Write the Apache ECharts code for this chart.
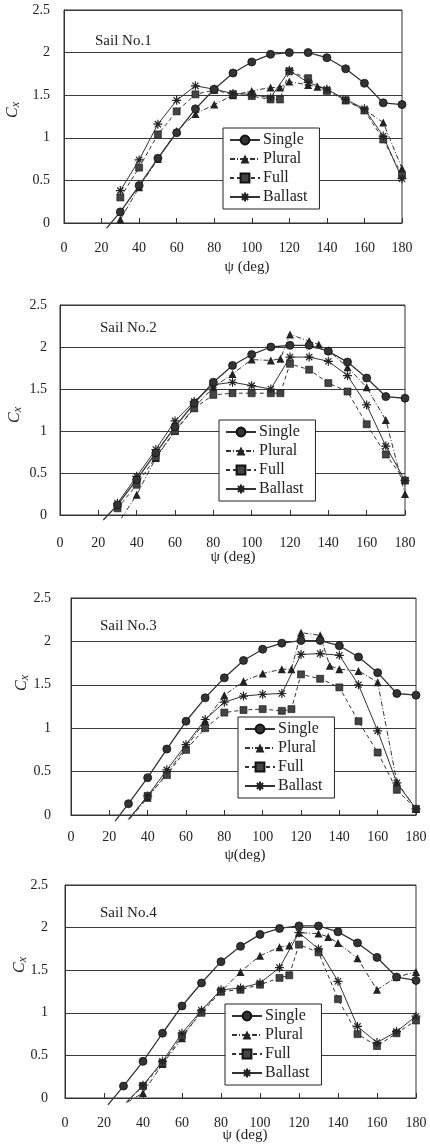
<!DOCTYPE html>
<html><head><meta charset="utf-8">
<script src="https://cdn.jsdelivr.net/npm/echarts@6/dist/echarts.min.js"></script>
<style>html,body{margin:0;padding:0;background:#fff}#c{width:430px;height:1148px}</style>
</head><body><div id="c"></div>
<script>
// ---- data ----
const psi = [30,40,50,60,70,80,90,100,110,115,120,130,135,140,150,160,170,180];
const seriesNames = ['Single','Plural','Full','Ballast'];
const panelLabels = ['Sail No.1','Sail No.2','Sail No.3','Sail No.4'];
const xTitles = ['\u03c8 (deg)','\u03c8 (deg)','\u03c8(deg)','\u03c8 (deg)'];
const xTicks = [0,20,40,60,80,100,120,140,160,180];
const yTicks = [0,0.5,1,1.5,2,2.5];

const single1  = [0.13,0.44,0.76,1.06,1.34,1.57,1.76,1.89,1.98,null,2.00,2.00,null,1.94,1.81,1.64,1.41,1.39];
const plural1  = [0.04,0.42,0.75,1.08,1.28,1.39,1.50,1.55,1.59,1.59,1.66,1.62,1.60,1.57,1.44,1.33,1.18,0.64];
const full1    = [0.30,0.65,1.04,1.31,1.51,1.56,1.51,1.49,1.45,1.45,1.78,1.70,null,1.55,1.44,1.32,0.98,0.56];
const ballast1 = [0.38,0.74,1.16,1.44,1.61,1.57,1.52,1.51,1.47,null,1.79,1.65,null,1.57,1.45,1.34,1.02,0.52];

const single2  = [0.12,0.42,0.74,1.05,1.33,1.58,1.78,1.91,2.00,null,2.02,2.02,null,1.95,1.82,1.63,1.41,1.39];
const plural2  = [null,0.24,0.68,1.00,1.28,1.52,1.68,1.85,1.84,1.86,2.15,2.07,2.03,1.96,1.76,1.52,1.13,0.25];
const full2    = [0.08,0.36,0.69,1.00,1.27,1.43,1.45,1.45,1.45,1.45,1.80,1.73,null,1.57,1.47,1.08,0.72,0.41];
const ballast2 = [0.14,0.46,0.78,1.12,1.35,1.55,1.58,1.54,1.50,null,1.88,1.88,null,1.83,1.66,1.31,0.82,0.41];

const single3  = [0.13,0.43,0.76,1.08,1.35,1.58,1.78,1.91,1.98,null,2.01,2.01,null,1.95,1.82,1.64,1.40,1.38];
const plural3  = [null,0.20,0.48,0.78,1.08,1.38,1.54,1.63,1.68,1.68,2.10,2.07,1.72,1.68,1.66,1.53,0.38,0.07];
const full3    = [null,0.22,0.46,0.75,1.00,1.18,1.21,1.22,1.20,1.22,1.62,1.57,null,1.47,1.08,0.72,0.29,0.07];
const ballast3 = [null,0.22,0.52,0.81,1.10,1.30,1.37,1.39,1.40,null,1.85,1.86,null,1.84,1.50,0.97,0.37,0.07];

const single4  = [0.14,0.43,0.76,1.08,1.35,1.60,1.78,1.92,1.99,null,2.02,2.02,null,1.95,1.82,1.65,1.42,1.38];
const plural4  = [null,0.06,0.40,0.70,1.03,1.25,1.48,1.67,1.77,1.79,1.94,1.93,1.89,1.82,1.64,1.27,1.42,1.48];
const full4    = [null,0.14,0.41,0.73,1.00,1.25,1.27,1.33,1.41,1.44,1.80,1.71,null,1.16,0.75,0.61,0.76,0.91];
const ballast4 = [null,0.15,0.43,0.76,1.03,1.27,1.29,1.35,1.53,null,1.94,1.75,null,1.37,0.84,0.65,0.78,0.96];

// line stubs running below the axis (start of each curve, no marker)
const stubs1 = {Single:[22.7,-0.06]};
const stubs2 = {Single:[22.6,-0.06], Plural:[32,-0.04]};
const stubs3 = {Single:[23,-0.07], Plural:[30.5,-0.05], Full:[30,-0.05], Ballast:[30,-0.05]};
const stubs4 = {Single:[22,-0.08], Plural:[32,-0.05], Full:[31.5,-0.05], Ballast:[31.5,-0.05]};

const panels = [
  {Single:single1, Plural:plural1, Full:full1, Ballast:ballast1, stubs:stubs1},
  {Single:single2, Plural:plural2, Full:full2, Ballast:ballast2, stubs:stubs2},
  {Single:single3, Plural:plural3, Full:full3, Ballast:ballast3, stubs:stubs3},
  {Single:single4, Plural:plural4, Full:full4, Ballast:ballast4, stubs:stubs4}
];

// ---- layout / style ----
const FONT = 'Liberation Serif';
const INK = '#222';
const grids = [
  {left:64, top:10,  width:338, height:213},
  {left:60, top:305, width:345, height:210},
  {left:71, top:598, width:345, height:217},
  {left:65, top:885, width:351, height:213}
];
const yMargins = [14,13,20,17];
const xMargins = [18,21,15,18];
const legendPos = [
  {left:223, top:128}, {left:219, top:420}, {left:238, top:717}, {left:225, top:1004}
];
const sailPos = [[95,43],[100,330],[100,628],[100,915]];
const xTitlePos = [[247,267],[233,557],[245,855],[245,1135]];
const yTitlePos = [[13,110],[15,415],[22,683],[20,965]];

const ASTER = 'path://M0,5L10,5M5,0L5,10M1.5,1.5L8.5,8.5M8.5,1.5L1.5,8.5';
const styles = {
  Single:  {symbol:'circle',   symbolSize:8, line:{type:'solid', width:1.3}, item:{color:'#333', borderColor:'#111', borderWidth:0.8}},
  Plural:  {symbol:'triangle', symbolSize:8, line:{type:[5,2,1,2], width:1}, item:{color:'#222'}},
  Full:    {symbol:'rect',     symbolSize:7, line:{type:[4,3], width:1}, item:{color:'#444', borderColor:'#111', borderWidth:0.6}},
  Ballast: {symbol:ASTER,      symbolSize:9, line:{type:'solid', width:1}, item:{color:'rgba(0,0,0,0)', borderColor:'#222', borderWidth:1.2}}
};

const option = {
  animation:false,
  backgroundColor:'#fff',
  grid: grids.map(g => Object.assign({show:true, borderColor:'#333', borderWidth:1, backgroundColor:'transparent'}, g)),
  xAxis: grids.map((g,i) => ({
    type:'value', gridIndex:i, min:xTicks[0], max:xTicks[xTicks.length-1], interval:xTicks[1]-xTicks[0],
    axisLine:{show:true, onZero:false, lineStyle:{color:'#333', width:1}},
    axisTick:{show:true, inside:true, length:5, lineStyle:{color:'#333'}},
    splitLine:{show:false},
    axisLabel:{fontFamily:FONT, fontSize:14, color:INK, margin:xMargins[i]}
  })),
  yAxis: grids.map((g,i) => ({
    type:'value', gridIndex:i, min:yTicks[0], max:yTicks[yTicks.length-1], interval:yTicks[1]-yTicks[0],
    axisLine:{show:true, lineStyle:{color:'#333'}},
    axisTick:{show:false},
    splitLine:{show:true, lineStyle:{color:'#3a3a3a', width:1}},
    axisLabel:{fontFamily:FONT, fontSize:14, color:INK, margin:yMargins[i]}
  })),
  legend: legendPos.map(p => ({
    data:seriesNames, orient:'vertical', left:p.left, top:p.top,
    backgroundColor:'#fff', borderColor:'#222', borderWidth:1, padding:[4,12,4,6],
    itemGap:3, itemWidth:30, itemHeight:11, selectedMode:false,
    textStyle:{fontFamily:FONT, fontSize:16, color:INK, lineHeight:15, padding:[0,0,0,-2]}
  })),
  series: [],
  graphic: []
};

panels.forEach((p,i) => {
  seriesNames.forEach(name => {
    const st = styles[name];
    const data = [];
    if (p.stubs[name]) data.push({value:p.stubs[name], symbol:'none'});
    p[name].forEach((v,k) => { if (v !== null) data.push([psi[k], v]); });
    option.series.push({
      name, type:'line', xAxisIndex:i, yAxisIndex:i, data,
      symbol:st.symbol, symbolSize:st.symbolSize, clip:false,
      lineStyle:Object.assign({color:'#333'}, st.line),
      itemStyle:st.item, emphasis:{disabled:true}, z: name==='Single'?4:3
    });
  });
  option.graphic.push({type:'text', left:sailPos[i][0], top:sailPos[i][1]-9,
    style:{text:panelLabels[i], font:'15px "'+FONT+'"', fill:INK}});
  option.graphic.push({type:'text', x:xTitlePos[i][0], y:xTitlePos[i][1],
    style:{text:xTitles[i], font:'15px "'+FONT+'"', fill:INK, align:'center', verticalAlign:'middle'}});
  option.graphic.push({type:'text', x:yTitlePos[i][0], y:yTitlePos[i][1], rotation:Math.PI/2,
    style:{text:'{c|C}{s|x}', align:'center', verticalAlign:'middle',
      rich:{c:{font:'italic 16px "'+FONT+'"', fill:INK}, s:{font:'italic 12px "'+FONT+'"', fill:INK, padding:[6,0,0,0]}}}});
});

const chart = echarts.init(document.getElementById('c'), null, {renderer:'canvas'});
chart.setOption(option);
</script>
</body></html>
